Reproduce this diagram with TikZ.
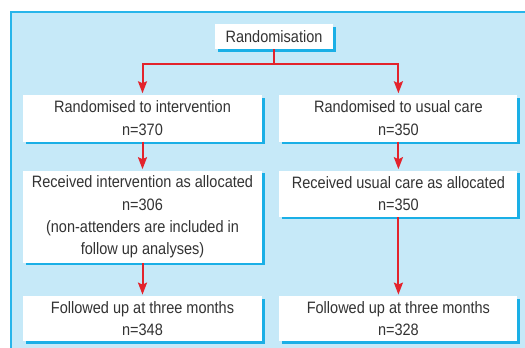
\documentclass[tikz,border=0pt]{standalone}
\usepackage{fontspec}
\setmainfont{Liberation Sans}[FakeStretch=0.88]
\usepackage{xcolor}
\definecolor{cPanel} {HTML}{C6E9F8}
\definecolor{cEdge}  {HTML}{27B5EA}
\definecolor{cShadow}{HTML}{1AAFE6}
\definecolor{cRed}   {HTML}{E3232C}
\definecolor{cText}  {HTML}{333333}
\usepackage{tikz}
\usetikzlibrary{arrows.meta, positioning, shadows}
\tikzset{
  blk/.style  = {rectangle, fill=white, inner sep=0pt,
                 minimum width=#1, align=center, text=cText,
                 font=\fontsize{16.5}{22.3}\selectfont,
                 drop shadow={shadow xshift=2.5pt, shadow yshift=-2.5pt,
                              fill=cShadow, opacity=1}},
  blk/.default = 239pt,
  arr/.style  = {-{Stealth[length=12pt, width=9pt, inset=2pt]},
                 draw=cRed, line width=2pt, shorten >=1.5pt},
}
\begin{document}
\begin{tikzpicture}[node distance=29pt and 17pt]

  \useasboundingbox (0,0) rectangle (525pt,-348pt);
  \fill[cPanel] (11pt,-12pt) rectangle (525pt,-348pt);
  \draw[cEdge, line width=2pt] (11pt,-348pt) |- (525pt,-12pt);

  \node[blk=118pt, minimum height=25pt] (rnd) at (274pt,-36.5pt)
        {Randomisation};

  \node[blk, minimum height=46.5pt] (int1) at (142.5pt,-118.25pt)
        {Randomised to intervention\\n=370};
  \node[blk=238pt, minimum height=46.5pt, right=of int1] (usu1)
        {Randomised to usual care\\n=350};

  \node[blk, minimum height=92pt, below=of int1] (int2)
        {Received intervention as allocated\\n=306\\
         (non-attenders are included in\\follow up analyses)};
  \node[blk=238pt, minimum height=46pt, below=of usu1] (usu2)
        {Received usual care as allocated\\n=350};

  \node[blk, minimum height=45pt, below=33pt of int2] (int3)
        {Followed up at three months\\n=348};
  \node[blk=238pt, minimum height=45pt, right=of int3] (usu3)
        {Followed up at three months\\n=328};

  \draw[arr] (rnd.south) -- ++(0,-15pt) -| (int1.north);
  \draw[arr] (rnd.south) -- ++(0,-15pt) -| (usu1.north);
  \draw[arr] (int1)--(int2);
  \draw[arr] (usu1)--(usu2);
  \draw[arr] (int2)--(int3);
  \draw[arr] (usu2)--(usu3);

\end{tikzpicture}
\end{document}
